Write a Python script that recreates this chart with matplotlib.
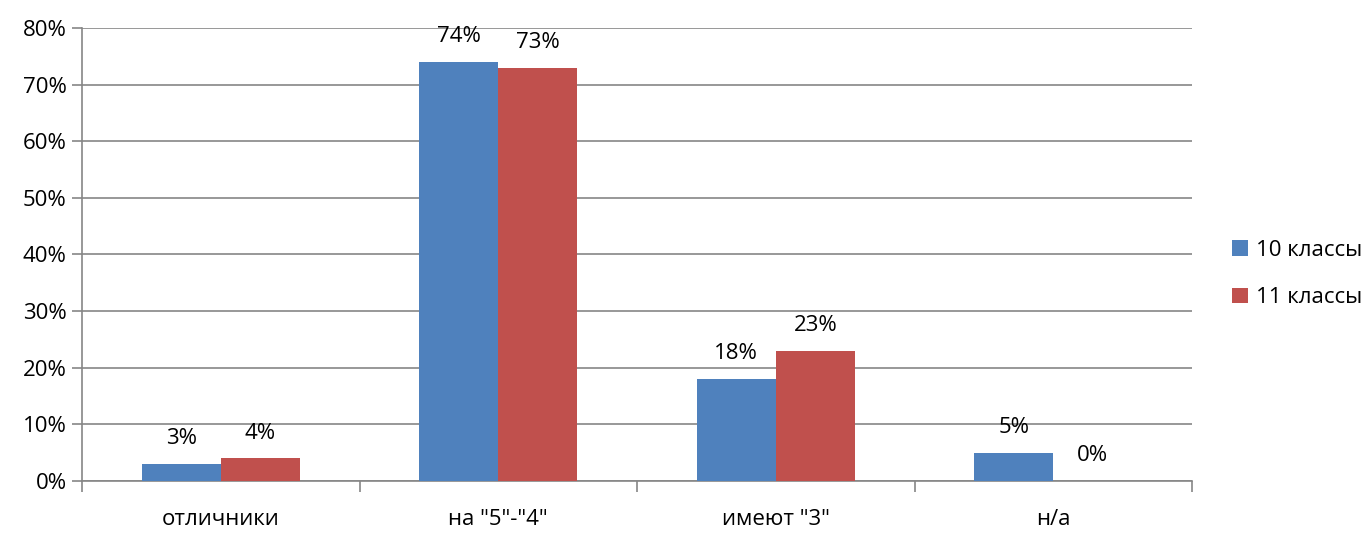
import matplotlib
matplotlib.use("Agg")
import matplotlib.pyplot as plt
import numpy as np

categories = ["отличники", 'на "5"-"4"', 'имеют "3"', "н/а"]
series_names = ["10 классы", "11 классы"]
values_10 = [3, 74, 18, 5]
values_11 = [4, 73, 23, 0]
colors = ["#4F81BD", "#C0504D"]

plt.rcParams['font.family'] = ['Open Sans', 'DejaVu Sans']
FS = 16

fig = plt.figure(figsize=(13.64, 5.37), dpi=100)
ax = fig.add_axes([82/1364, 1-481/537, (1192-82)/1364, (481-28)/537])

x = np.arange(len(categories))
w = 0.285
b1 = ax.bar(x - w/2, values_10, w, color=colors[0], label=series_names[0], zorder=3)
b2 = ax.bar(x + w/2, values_11, w, color=colors[1], label=series_names[1], zorder=3)

for bars, vals in ((b1, values_10), (b2, values_11)):
    for r, v in zip(bars, vals):
        ax.annotate(f"{v}%", (r.get_x() + r.get_width()/2, v), xytext=(0, 10.5),
                    textcoords="offset points", ha="center", va="bottom", fontsize=FS)

ax.set_xlim(-0.5, len(categories) - 0.5)
ax.set_ylim(0, 80)
ax.set_yticks(range(0, 81, 10))
ax.set_yticklabels([f"{t}%" for t in range(0, 81, 10)], fontsize=FS)
ax.yaxis.grid(True, color="#868686", linewidth=1.2, zorder=0)
ax.set_axisbelow(True)

ax.set_xticks(np.arange(-0.5, len(categories), 1.0))
ax.set_xticklabels([])
ax.set_xticks(x, minor=True)
ax.set_xticklabels(categories, minor=True, fontsize=FS)
ax.tick_params(axis='x', which='minor', length=0, pad=20)
ax.tick_params(axis='x', which='major', length=8, color="#868686", width=1.2)
ax.tick_params(axis='y', length=7, color="#868686", width=1.2, pad=4)

for s in ("top", "right"):
    ax.spines[s].set_visible(False)
for s in ("left", "bottom"):
    ax.spines[s].set_color("#868686")
    ax.spines[s].set_linewidth(1.2)

leg = fig.legend(handles=[b1, b2], labels=series_names, loc="center left",
                 bbox_to_anchor=(1212/1364, 1-274/537), frameon=False, fontsize=FS,
                 handlelength=0.7, handleheight=0.7, handletextpad=0.4, labelspacing=1.2)

fig.savefig("out.png", dpi=100)
